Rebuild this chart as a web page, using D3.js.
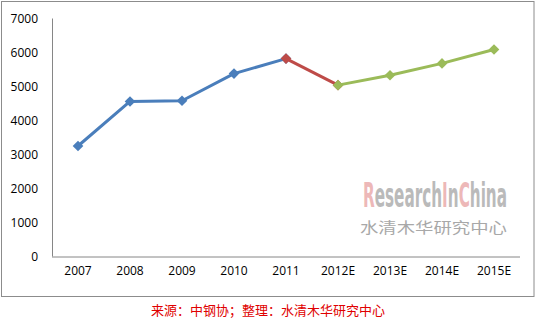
<!DOCTYPE html>
<html>
<head>
<meta charset="utf-8">
<script src="https://cdn.jsdelivr.net/npm/d3@7"></script>
<style>
  body { margin: 0; background: #fff; }
  svg { display: block; }
</style>
</head>
<body>
<svg id="chart" width="536" height="321"></svg>
<script>
var years = ['2007', '2008', '2009', '2010', '2011', '2012E', '2013E', '2014E', '2015E'];
var actual = [3250, 4560, 4580, 5380, 5820];
var drop = [5820, 5040];
var forecast = [5040, 5330, 5680, 6090];
var yTicks = [0, 1000, 2000, 3000, 4000, 5000, 6000, 7000];
var source = '来源：中钢协；整理：水清木华研究中心';

var plotL = 52, plotR = 520, plotT = 18.5, plotB = 256.5;

var svg = d3.select('#chart');

// outer frame
svg.append('rect')
    .attr('x', 1.5).attr('y', 1.5)
    .attr('width', 532.5).attr('height', 295)
    .attr('fill', 'none').attr('stroke', '#8c8c8c').attr('stroke-width', 1);

var x = d3.scaleBand().domain(years).range([plotL, plotR]);
var y = d3.scaleLinear().domain([0, 7000]).range([plotB, plotT]);

function cx(name) { return x(name) + x.bandwidth() / 2; }

// y axis
var yAxis = svg.append('g')
    .attr('transform', 'translate(' + plotL + ',0)')
    .call(d3.axisLeft(y).tickValues(yTicks).tickSize(0).tickPadding(14).tickFormat(d3.format('d')));
yAxis.select('.domain').attr('stroke', '#868686').attr('d', 'M0.5,' + plotT + 'V' + plotB);
yAxis.selectAll('text')
    .attr('font-family', 'Open Sans, sans-serif').attr('font-size', 12).attr('fill', '#000');

// x axis
var xAxis = svg.append('g')
    .attr('transform', 'translate(0,' + plotB + ')')
    .call(d3.axisBottom(x).tickSize(0).tickPadding(10));
xAxis.select('.domain').attr('stroke', '#868686').attr('d', 'M' + plotL + ',0.5H' + plotR);
xAxis.selectAll('text')
    .attr('font-family', 'Open Sans, sans-serif').attr('font-size', 12).attr('fill', '#000');

// watermark: pieces laid side by side, then squeezed horizontally
var wm = svg.append('g').attr('class', 'watermark');
var wmWord = wm.append('g');
var parts = [['R', '#edb8b8'], ['esearch', '#bababa'], ['I', '#edb8b8'], ['n', '#bababa'], ['C', '#edb8b8'], ['hina', '#bababa']];
var runX = 0;
parts.forEach(function (p) {
    var t = wmWord.append('text')
        .attr('x', runX).attr('y', 0)
        .attr('font-family', 'DejaVu Sans, sans-serif')
        .attr('font-weight', 'bold')
        .attr('font-size', 33)
        .attr('fill', p[1])
        .text(p[0]);
    runX += t.node().getComputedTextLength();
});
wmWord.attr('transform', 'translate(363,207) scale(' + (144 / runX) + ',1)');

wm.append('text')
    .attr('x', 360).attr('y', 233)
    .attr('textLength', 147).attr('lengthAdjust', 'spacingAndGlyphs')
    .attr('font-family', 'Noto Sans CJK SC, sans-serif')
    .attr('font-size', 15).attr('fill', '#a8a8a8')
    .text('水清木华研究中心');

// series
var segs = [
    {names: years.slice(0, 5), vals: actual, color: '#4a7ebb'},
    {names: years.slice(4, 6), vals: drop, color: '#be4b48'},
    {names: years.slice(5, 9), vals: forecast, color: '#9bbb59'}
];

var line = d3.line()
    .x(function (d) { return cx(d.name); })
    .y(function (d) { return y(d.v); });

var diamond = d3.symbol().type(d3.symbolDiamond2).size(72);

segs.forEach(function (s) {
    var pts = s.names.map(function (n, i) { return {name: n, v: s.vals[i]}; });
    svg.append('path')
        .datum(pts)
        .attr('d', line)
        .attr('fill', 'none')
        .attr('stroke', s.color)
        .attr('stroke-width', 3)
        .attr('stroke-linejoin', 'round');
    svg.append('g').selectAll('path')
        .data(pts)
        .enter()
        .append('path')
        .attr('d', diamond)
        .attr('transform', function (d) { return 'translate(' + cx(d.name) + ',' + y(d.v) + ')'; })
        .attr('fill', s.color);
});

// source note
svg.append('text')
    .attr('x', 268).attr('y', 315)
    .attr('text-anchor', 'middle')
    .attr('font-family', 'Noto Sans CJK SC, sans-serif')
    .attr('font-size', 13)
    .attr('fill', '#e00000')
    .text(source);
</script>
</body>
</html>
